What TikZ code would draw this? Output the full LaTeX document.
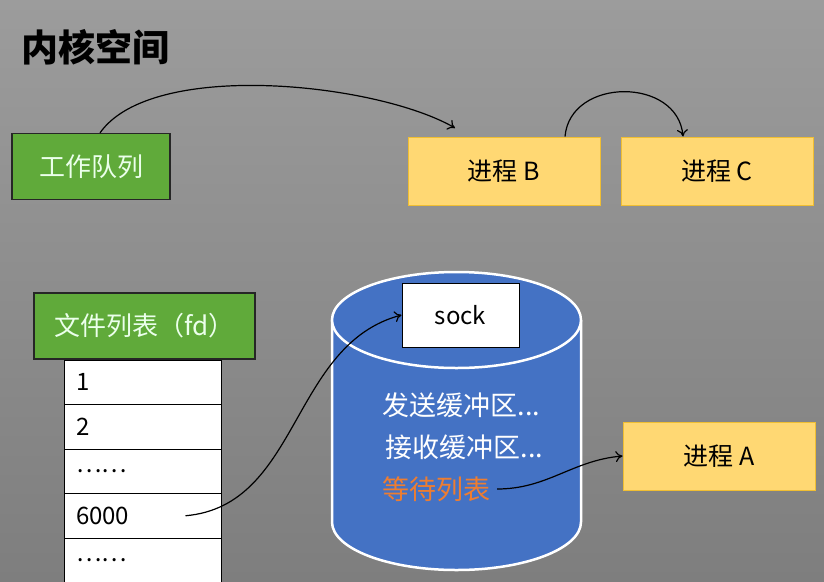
\documentclass[tikz,border=0pt]{standalone}
\usepackage{fontspec}
\setmainfont{Noto Sans CJK SC}
\usetikzlibrary{arrows.meta}

\definecolor{bgtop}{RGB}{156,156,156}
\definecolor{bgbottom}{RGB}{126,126,126}
\definecolor{boxgreen}{RGB}{96,170,58}
\definecolor{boxyellow}{RGB}{255,216,115}
\definecolor{lineyellow}{RGB}{240,190,50}
\definecolor{sockblue}{RGB}{68,114,196}
\definecolor{waitorange}{RGB}{237,125,49}

\begin{document}
\begin{tikzpicture}[x=1pt,y=1pt,
    greenbox/.style={draw=black!85, line width=1.2pt, fill=boxgreen, text=green!8,
        inner sep=0pt, font=\fontsize{26}{30}\selectfont},
    procbox/.style={draw=lineyellow, line width=1pt, fill=boxyellow, text=black,
        minimum width=192pt, minimum height=68pt, inner sep=0pt,
        font=\fontsize{25}{30}\selectfont},
    fdrow/.style={draw=black, line width=1pt, fill=white, minimum width=157pt,
        minimum height=44.5pt, inner sep=0pt},
    celltext/.style={anchor=west, font=\fontsize{24}{28}\selectfont},
    socktext/.style={anchor=west, text=white, font=\fontsize{27}{30}\selectfont},
    link/.style={-{To[length=7pt,width=11pt]}, line width=1.2pt, black}]

    % Background and size of the picture
    \shade[top color=bgtop, bottom color=bgbottom] (0,0) rectangle (824,-581);
    \useasboundingbox (0,0) rectangle (824,-581);

    % Title
    \node[anchor=west, font=\fontsize{37}{40}\selectfont\bfseries] (title) at (18,-47) {内核空间};

    % Work queue and the processes
    \node[greenbox, minimum width=158pt, minimum height=66pt] (work) at (91,-166.5) {工作队列};
    \node[procbox] (procB) at (504,-171) {进程 B};
    \node[procbox] (procC) at (717,-171) {进程 C};
    \node[procbox] (procA) at (719,-456) {进程 A};

    % File list header
    \node[greenbox, minimum width=221pt, minimum height=66pt] (fdhead) at (144.5,-326) {文件列表（fd）};

    % File list rows (loop)
    \foreach \lbl [count=\i] in {1,2,……,6000,……}
        \node[fdrow] (row\i) at (142.5,-382.25-44.5*\i+44.5) {};
    \foreach \lbl [count=\i] in {1,2,……,6000,……}
        \node[celltext] at ([xshift=9pt]row\i.west) {\lbl};

    % Socket cylinder
    \fill[sockblue] (332,-320) -- (332,-522) arc[start angle=180, end angle=360, x radius=124.5, y radius=48]
        -- (581,-320) -- cycle;
    \draw[white, line width=2.5pt] (332,-320) -- (332,-522) arc[start angle=180, end angle=360, x radius=124.5, y radius=48]
        -- (581,-320);
    \draw[white, line width=2.5pt, fill=sockblue] (456.5,-320) ellipse[x radius=124.5, y radius=48];

    % Socket contents
    \node[draw=black, line width=1pt, fill=white, minimum width=117pt, minimum height=64pt,
        inner sep=0pt, font=\fontsize{24}{28}\selectfont] (sock) at (460.5,-315) {sock};
    \node[socktext] (sendbuf) at (379,-405) {发送缓冲区...};
    \node[socktext] (recvbuf) at (382,-447) {接收缓冲区...};
    \node[socktext, text=waitorange] (wait) at (379,-489) {等待列表};

    % Connectors
    \coordinate (bTip) at (455,-128);
    \coordinate (fdStart) at ([xshift=-36pt]row4.east);
    \draw[link] ([xshift=9pt]work.north) to[out=55, in=150, looseness=0.65] (bTip);
    \draw[link] ([xshift=61pt]procB.north) to[out=85, in=95, looseness=1.3] ([xshift=-34pt]procC.north);
    \draw[link] (fdStart) to[out=5, in=195] (sock.west);
    \draw[link] ([xshift=3pt]wait.east) to[out=0, in=185] (procA.west);

\end{tikzpicture}
\end{document}
